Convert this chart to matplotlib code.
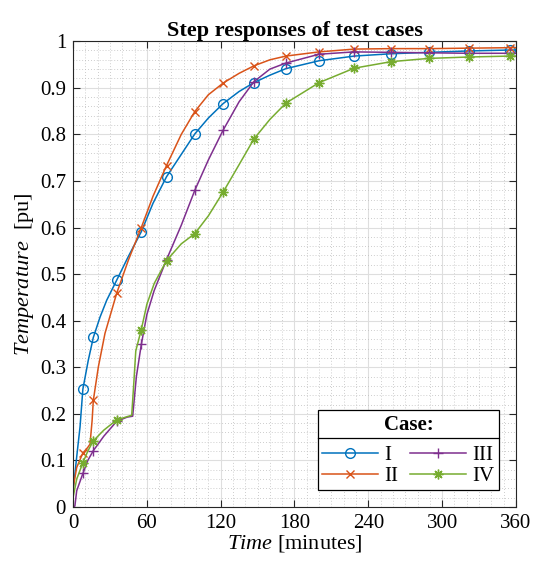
import numpy as np
import matplotlib
matplotlib.use('Agg')
import matplotlib.pyplot as plt
from matplotlib.ticker import MultipleLocator, FuncFormatter
from matplotlib.lines import Line2D

plt.rcParams['font.family'] = 'Liberation Serif'
plt.rcParams['mathtext.fontset'] = 'custom'
plt.rcParams['mathtext.rm'] = 'Liberation Serif'
plt.rcParams['mathtext.it'] = 'Liberation Serif:italic'
plt.rcParams['mathtext.bf'] = 'Liberation Serif:bold'

# marker times (minutes)
mk_t = [8, 16.5, 35.5, 55.5, 76, 99, 122, 147, 173, 200, 228.5, 258.5, 289, 321.5, 355]

t_I = [0, 1.5, 3, 5.7, 8, 12.4, 16.5, 22, 27.4, 35.5, 45, 55.5, 65, 76, 88, 99,
       110, 122, 135, 147, 160, 173, 200, 228.5, 258.5, 289, 321.5, 355, 360]
y_I = [0.035, 0.07, 0.108, 0.172, 0.253, 0.315, 0.364, 0.408, 0.444, 0.487, 0.538, 0.591,
       0.652, 0.709, 0.757, 0.801, 0.835, 0.866, 0.892, 0.911, 0.927, 0.941, 0.958,
       0.968, 0.973, 0.976, 0.979, 0.981, 0.981]

t_II = [0, 3, 8, 12, 13.8, 15.5, 16.5, 20.6, 26, 35.5, 45, 55.5, 65, 76, 88, 99,
        110, 122, 135, 147, 160, 173, 200, 228.5, 258.5, 289, 321.5, 355, 360]
y_II = [0.04, 0.085, 0.116, 0.128, 0.135, 0.185, 0.229, 0.301, 0.373, 0.459, 0.53, 0.600,
        0.667, 0.733, 0.8, 0.849, 0.885, 0.910, 0.931, 0.947, 0.960, 0.968, 0.977,
        0.983, 0.984, 0.984, 0.985, 0.986, 0.986]

t_III = [0, 1.5, 3, 8, 12, 16.5, 25, 35.5, 44, 48.5, 51.5, 55.5, 60, 66, 76, 88, 99,
         110, 122, 135, 147, 160, 173, 200, 228.5, 258.5, 289, 321.5, 355, 360]
y_III = [0, 0.002, 0.035, 0.072, 0.1, 0.121, 0.152, 0.184, 0.193, 0.195, 0.28, 0.349,
         0.413, 0.465, 0.531, 0.605, 0.680, 0.745, 0.809, 0.87, 0.913, 0.94, 0.953,
         0.972, 0.977, 0.976, 0.975, 0.974, 0.974, 0.974]

t_IV = [0, 3, 8, 12, 16.5, 25, 35.5, 44, 47.7, 49.5, 51, 55.5, 60, 66, 76, 88, 99,
        110, 122, 135, 147, 160, 173, 200, 228.5, 258.5, 289, 321.5, 355, 360]
y_IV = [0.02, 0.06, 0.095, 0.12, 0.142, 0.165, 0.187, 0.194, 0.197, 0.27, 0.335, 0.381,
        0.435, 0.48, 0.529, 0.565, 0.587, 0.625, 0.676, 0.735, 0.790, 0.832, 0.867,
        0.911, 0.942, 0.956, 0.963, 0.966, 0.968, 0.968]

labels = ['I', 'II', 'III', 'IV']
colors = ['#0072BD', '#D95319', '#7E2F8E', '#77AC30']
markers = ['o', 'x', '+', (8, 2, 0)]
msizes = [7, 6, 7, 7]
series = [(t_I, y_I), (t_II, y_II), (t_III, y_III), (t_IV, y_IV)]

fig = plt.figure(figsize=(5.33, 5.64), dpi=100)
ax = fig.add_axes([0.137, 0.101, 0.831, 0.826])

for (t, y), lab, c, m, ms in zip(series, labels, colors, markers, msizes):
    t = np.array(t)
    idx = [int(np.argmin(np.abs(t - v))) for v in mk_t]
    ax.plot(t, y, color=c, lw=1.1, marker=m, markevery=idx, ms=ms,
            mfc='none', mec=c, mew=1.0, label=lab)

ax.set_xlim(0, 360)
ax.set_ylim(0, 1)
ax.xaxis.set_major_locator(MultipleLocator(60))
ax.xaxis.set_minor_locator(MultipleLocator(10))
ax.yaxis.set_major_locator(MultipleLocator(0.1))
ax.yaxis.set_minor_locator(MultipleLocator(0.02))
ax.yaxis.set_major_formatter(FuncFormatter(lambda v, p: '%g' % round(v, 2)))
ax.grid(which='major', color='#dedede', lw=0.8, ls='-')
ax.grid(which='minor', color='#bdbdbd', lw=0.6, ls=(0, (1, 2.5)))
ax.set_axisbelow(True)
ax.tick_params(which='major', direction='in', length=5, width=0.8, top=True, right=True,
               labelsize=15, pad=5, colors='#262626', labelcolor='black')
ax.tick_params(which='minor', length=0)
for s in ax.spines.values():
    s.set_color('#262626')
    s.set_linewidth(0.8)

ax.set_title('Step responses of test cases', fontsize=16, fontweight='bold', pad=4)
ax.set_xlabel(r'$Time$ [minutes]', fontsize=16, labelpad=0)
ax.set_ylabel(r'$Temperature$  [pu]', fontsize=16, labelpad=3)

leg = ax.legend(ncol=2, title='Case:', loc='lower right',
                bbox_to_anchor=(1 - 17 / 443, 17 / 466), borderaxespad=0,
                fontsize=15, handlelength=2.7, columnspacing=0.55,
                handletextpad=0.3, labelspacing=0.05, borderpad=0.2,
                fancybox=False, framealpha=1, edgecolor='black')
leg.get_title().set_fontweight('bold')
leg.get_title().set_fontsize(15)
leg.get_frame().set_linewidth(0.9)
leg._legend_box.sep = 8

fig.canvas.draw()
lb = leg.get_window_extent()
tb = leg.get_title().get_window_extent()
ysep = tb.y0 - 3
inv = fig.transFigure.inverted()
x0, y0 = inv.transform((lb.x0, ysep))
x1, _ = inv.transform((lb.x1, ysep))
fig.add_artist(Line2D([x0, x1], [y0, y0], color='black', lw=0.9, zorder=10))

fig.savefig('out.png', dpi=100)
